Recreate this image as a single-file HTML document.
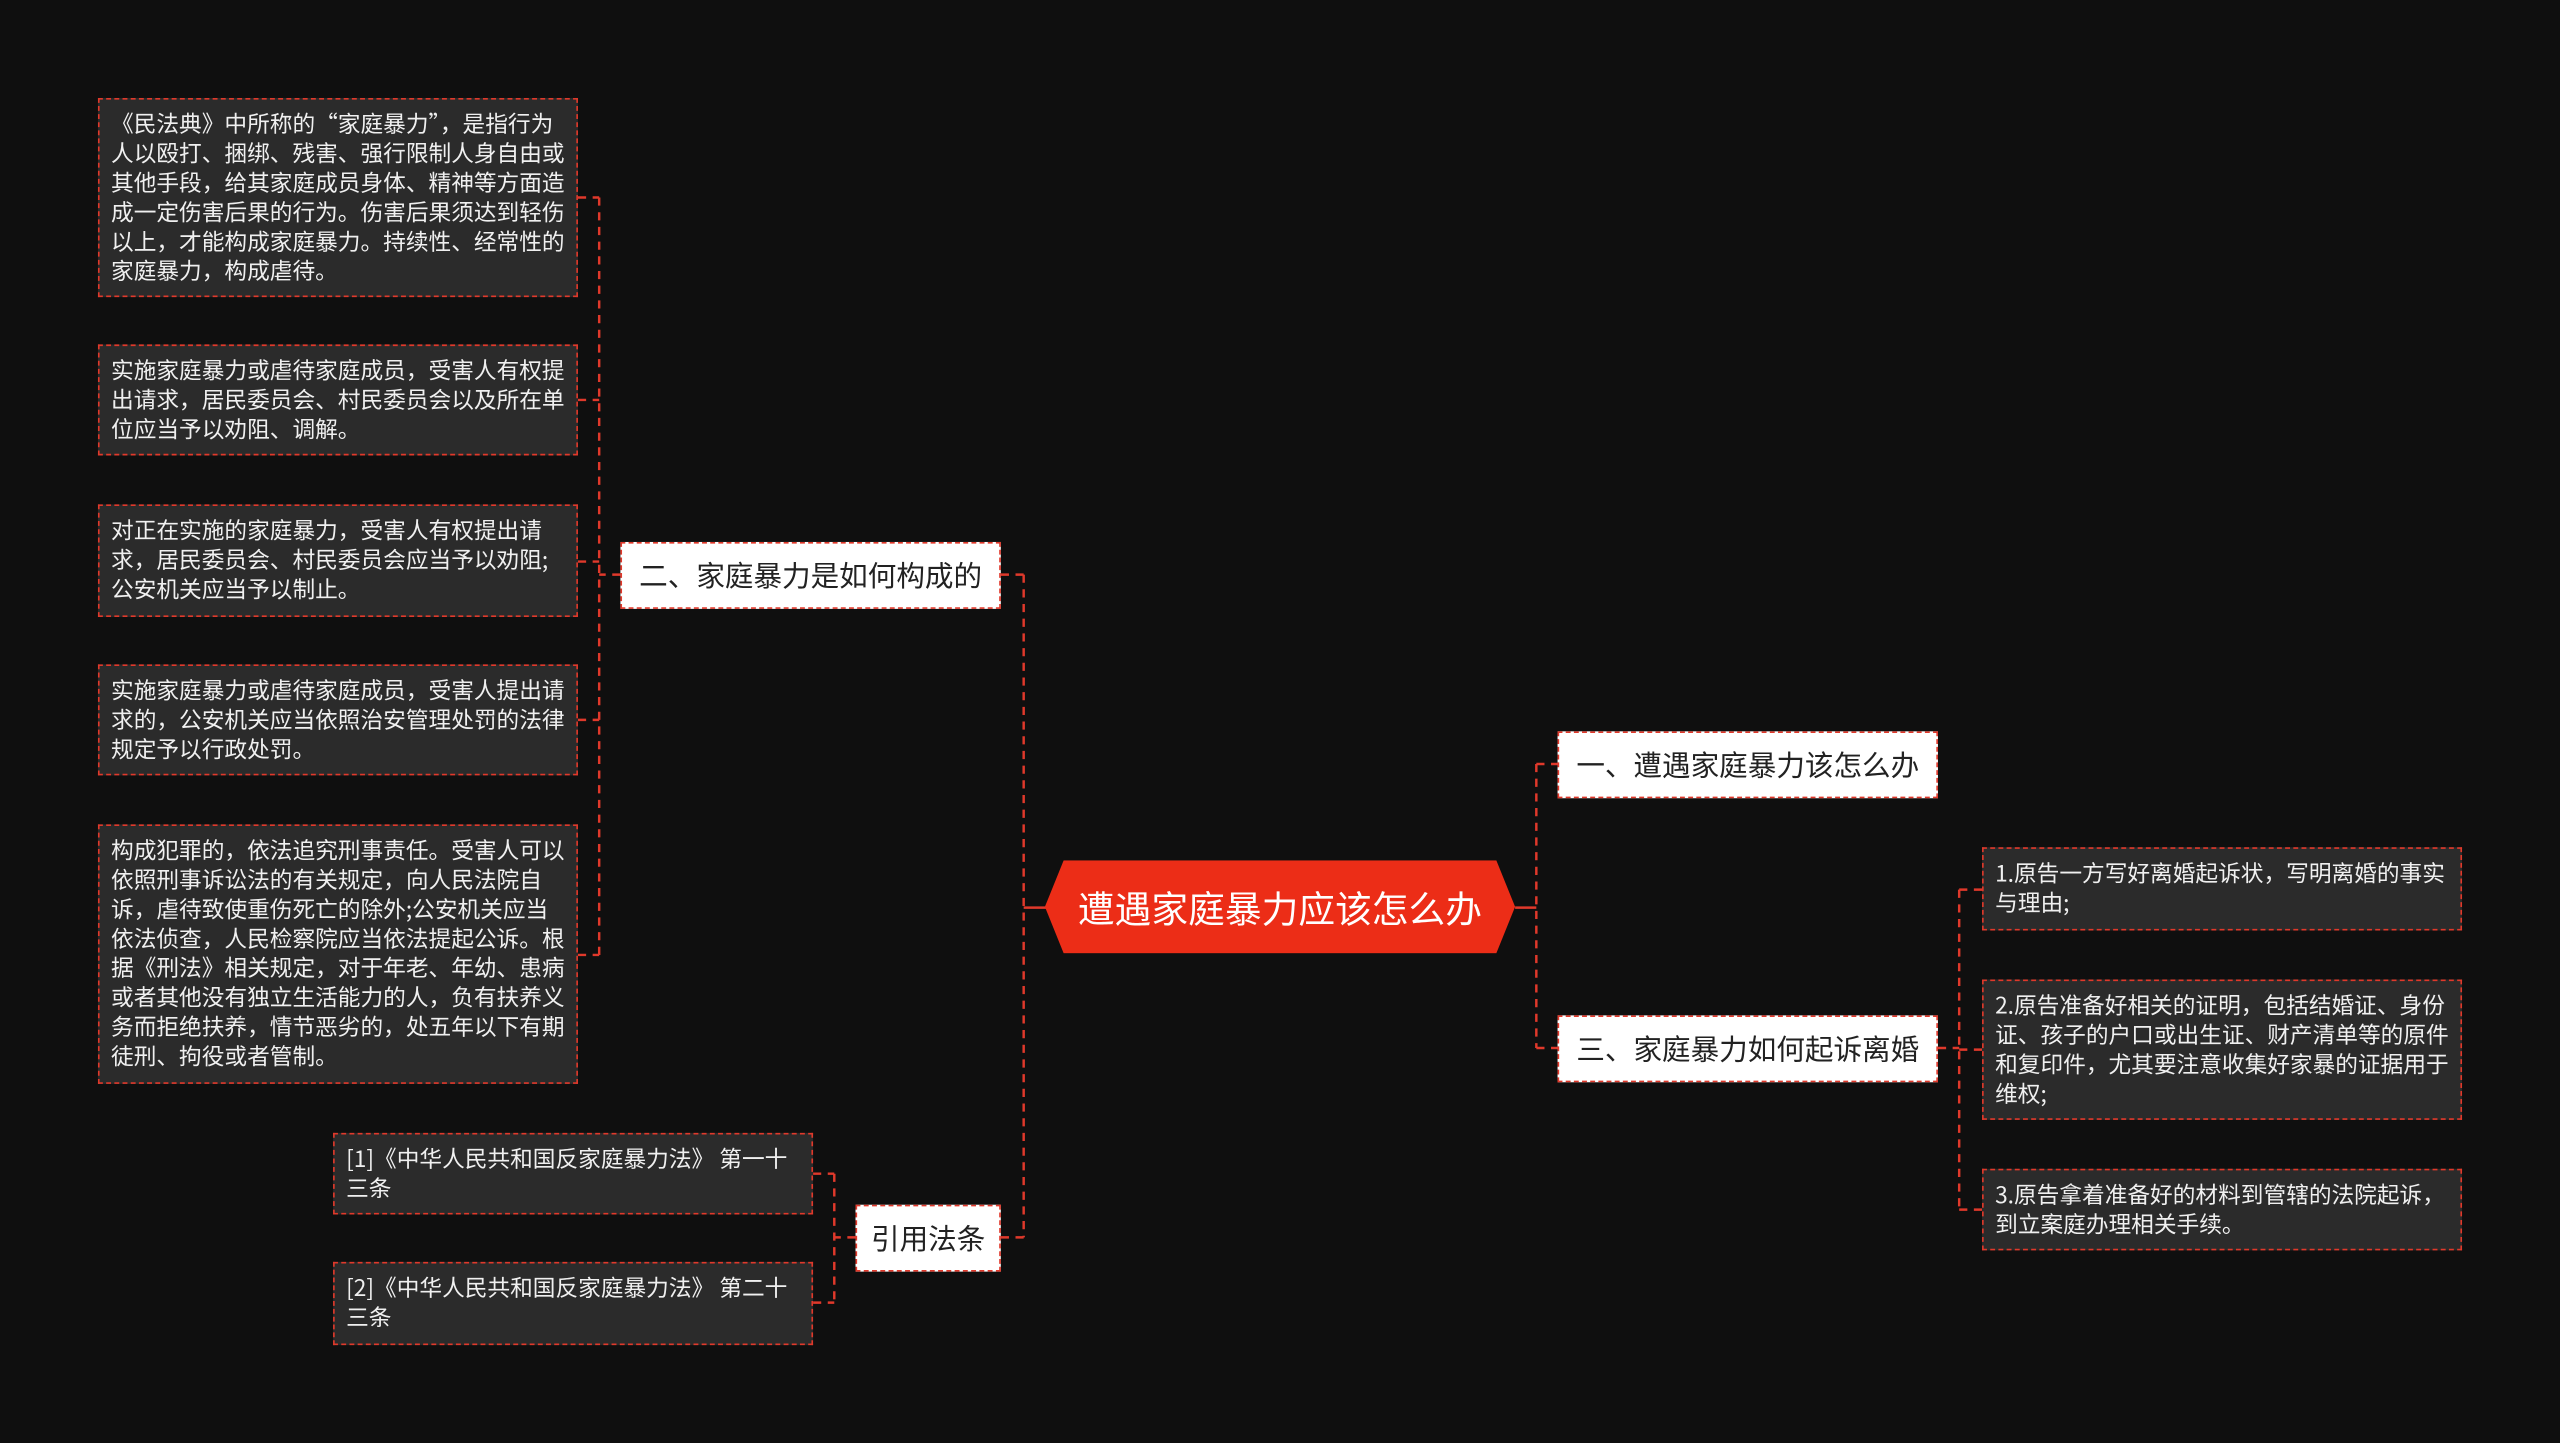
<!DOCTYPE html>
<html><head><meta charset="utf-8">
<style>
html,body{margin:0;padding:0;background:#0f0f0f;width:2560px;height:1443px;overflow:hidden}
#s{position:absolute;left:0;top:0;width:1568px;height:884px;transform:scale(1.63265,1.6324);transform-origin:0 0;font-family:"Noto Sans CJK SC","Liberation Sans",sans-serif}
.leaf{position:absolute;box-sizing:border-box;background:#2b2b2b;border:1px dashed #e0392b;color:#f0f0f0;font-size:13.9px;line-height:18px;padding:6px 5px 0 7px;letter-spacing:0}
.br{position:absolute;box-sizing:border-box;background:#fff;border:1px dashed #e0392b;color:#222;font-size:17.5px;display:flex;align-items:center;justify-content:center;white-space:nowrap}
#c{position:absolute;left:640px;top:527px;width:288px;height:57px;background:#ec2d17;clip-path:polygon(4% 0,96% 0,100% 50%,96% 100%,4% 100%,0 50%);color:#fff;font-size:22.5px;display:flex;align-items:center;justify-content:center}
svg{position:absolute;left:0;top:0}
</style></head><body><div id="s">
<svg width="1568" height="884">
<g stroke="#e0392b" stroke-width="1.5" fill="none" stroke-dasharray="5,4">
<path d="M627 352V758M613 352H627M613 758H627"/>
<path d="M941 468V642M941 468H954M941 642H954"/>
<path d="M367 121V585M380 352H367M354 121H367M354 245H367M354 344H367M354 441H367M354 585H367"/>
<path d="M511 719V798M524 758H511M498 719H511M498 798H511"/>
<path d="M1200 545V741M1187 642H1200M1200 545H1214M1200 643H1214M1200 741H1214"/>
</g>
<g stroke="#e0392b" stroke-width="1.5"><path d="M627 556H641M928 556H941"/></g>
</svg>
<div id="c">遭遇家庭暴力应该怎么办</div>
<div class="br" style="left:380px;top:332px;width:233px;height:41px">二、家庭暴力是如何构成的</div>
<div class="br" style="left:524px;top:738px;width:89px;height:41px">引用法条</div>
<div class="br" style="left:954px;top:448px;width:233px;height:41px">一、遭遇家庭暴力该怎么办</div>
<div class="br" style="left:954px;top:622px;width:233px;height:41px">三、家庭暴力如何起诉离婚</div>
<div class="leaf" style="left:60px;top:60px;width:294px;height:122px">《民法典》中所称的“家庭暴力”，是指行为人以殴打、捆绑、残害、强行限制人身自由或其他手段，给其家庭成员身体、精神等方面造成一定伤害后果的行为。伤害后果须达到轻伤以上，才能构成家庭暴力。持续性、经常性的家庭暴力，构成虐待。</div>
<div class="leaf" style="left:60px;top:211px;width:294px;height:68px">实施家庭暴力或虐待家庭成员，受害人有权提出请求，居民委员会、村民委员会以及所在单位应当予以劝阻、调解。</div>
<div class="leaf" style="left:60px;top:309px;width:294px;height:69px">对正在实施的家庭暴力，受害人有权提出请求，居民委员会、村民委员会应当予以劝阻;公安机关应当予以制止。</div>
<div class="leaf" style="left:60px;top:407px;width:294px;height:68px">实施家庭暴力或虐待家庭成员，受害人提出请求的，公安机关应当依照治安管理处罚的法律规定予以行政处罚。</div>
<div class="leaf" style="left:60px;top:505px;width:294px;height:159px">构成犯罪的，依法追究刑事责任。受害人可以依照刑事诉讼法的有关规定，向人民法院自诉，虐待致使重伤死亡的除外;公安机关应当依法侦查，人民检察院应当依法提起公诉。根据《刑法》相关规定，对于年老、年幼、患病或者其他没有独立生活能力的人，负有扶养义务而拒绝扶养，情节恶劣的，处五年以下有期徒刑、拘役或者管制。</div>
<div class="leaf" style="left:204px;top:694px;width:294px;height:50px">[1]《中华人民共和国反家庭暴力法》 第一十三条</div>
<div class="leaf" style="left:204px;top:773px;width:294px;height:51px">[2]《中华人民共和国反家庭暴力法》 第二十三条</div>
<div class="leaf" style="left:1214px;top:519px;width:294px;height:51px">1.原告一方写好离婚起诉状，写明离婚的事实与理由;</div>
<div class="leaf" style="left:1214px;top:600px;width:294px;height:86px">2.原告准备好相关的证明，包括结婚证、身份证、孩子的户口或出生证、财产清单等的原件和复印件，尤其要注意收集好家暴的证据用于维权;</div>
<div class="leaf" style="left:1214px;top:716px;width:294px;height:50px">3.原告拿着准备好的材料到管辖的法院起诉，到立案庭办理相关手续。</div>
</div></body></html>
